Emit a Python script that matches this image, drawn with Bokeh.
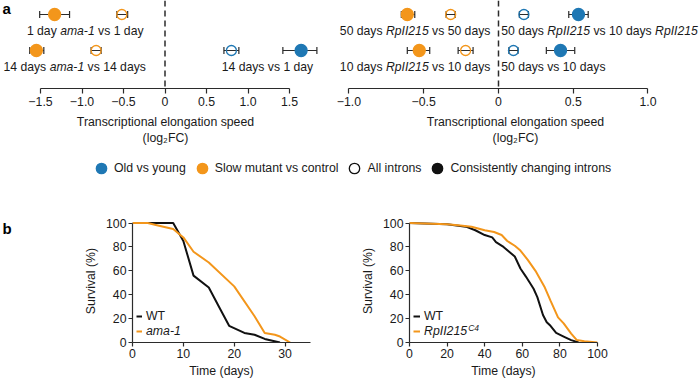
import numpy as np
from bokeh.plotting import figure
from bokeh.models import (Range1d, FixedTicker, Span, Whisker, TeeHead, ColumnDataSource,
                          Legend, LegendItem, Label, CustomJSTickFormatter)
from bokeh.layouts import column, row
from bokeh.embed import file_html
from bokeh.resources import INLINE
from bokeh.core.properties import value

# ---------------- data ----------------
# Panel a, left (ama-1)
a1_row = [0, 0, 1, 1, 1, 1]
a1_fc = [-1.33, -0.52, -1.55, -0.83, 0.80, 1.64]
a1_lo = [-1.51, -0.58, -1.63, -0.89, 0.71, 1.42]
a1_hi = [-1.15, -0.45, -1.46, -0.77, 0.89, 1.83]
a1_comp = ["slow", "slow", "slow", "slow", "old", "old"]
a1_set = ["consistent", "all", "consistent", "all", "all", "consistent"]
a1_ticks = [-1.5, -1.0, -0.5, 0, 0.5, 1.0, 1.5]
a1_labels = [
    ([("1 day ", 0), ("ama-1", 1), (" vs 1 day", 0)], -0.961, 0, "center"),
    ([("14 days ", 0), ("ama-1", 1), (" vs 14 days", 0)], -0.23, 1, "right"),
    ([("14 days vs 1 day", 0)], 1.235, 1, "center"),
]

# Panel a, right (RpII215)
a2_row = [0, 0, 0, 0, 1, 1, 1, 1]
a2_fc = [-0.61, -0.32, 0.17, 0.535, -0.53, -0.22, 0.10, 0.415]
a2_lo = [-0.65, -0.35, 0.14, 0.47, -0.61, -0.27, 0.07, 0.32]
a2_hi = [-0.56, -0.29, 0.20, 0.60, -0.46, -0.17, 0.13, 0.51]
a2_comp = ["slow", "slow", "old", "old", "slow", "slow", "old", "old"]
a2_set = ["consistent", "all", "all", "consistent", "consistent", "all", "all", "consistent"]
a2_ticks = [-1.0, -0.5, 0, 0.5, 1.0]
a2_labels = [
    ([("50 days ", 0), ("RpII215", 1), (" vs 50 days", 0)], -0.054, 0, "right"),
    ([("50 days ", 0), ("RpII215", 1), (" vs 10 days ", 0), ("RpII215", 1)], 0.018, 0, "left"),
    ([("10 days ", 0), ("RpII215", 1), (" vs 10 days", 0)], -0.054, 1, "right"),
    ([("50 days vs 10 days", 0)], 0.018, 1, "left"),
]

legend_labels = ["Old vs young", "Slow mutant vs control", "All introns",
                 "Consistently changing introns"]

# Panel b, left: worms
b1_wt_day = [0, 8, 10, 12, 15, 17, 19, 22, 24, 26, 27.5, 29]
b1_wt_surv = [100, 100, 85, 56, 46, 30, 14, 8, 6.5, 3, 1.5, 0]
b1_mut_day = [0, 3, 5, 8, 10, 12, 15, 20, 24, 26, 28, 29, 31]
b1_mut_surv = [100, 100, 98, 95, 88, 76, 67, 47, 22, 8, 6.5, 5, 0]
b1_xticks = [0, 10, 20, 30]

# Panel b, right: flies
b2_wt_day = [0, 20, 30, 35, 40, 44, 46, 50, 53, 56, 59, 62, 66, 68, 71, 73, 75, 78, 82, 86, 90]
b2_wt_surv = [100, 99, 97, 94, 90, 88, 84, 80, 76, 72, 62, 55, 45, 38, 23, 17, 14, 8, 5, 2, 0]
b2_mut_day = [0, 20, 27, 33, 40, 45, 49, 52, 56, 59, 63, 67, 72, 75, 79, 82, 86, 89, 93, 100]
b2_mut_surv = [100, 99, 98, 97, 94, 92.5, 90, 85, 81, 77, 69, 60, 46, 35, 21, 16, 7.5, 2, 1, 0]
b2_xticks = [0, 20, 40, 60, 80, 100]
b_yticks = [0, 20, 40, 60, 80, 100]

# ---------------- style ----------------
FONT = "Liberation Sans"
FS = "12.3px"
LFS = 12.2
TXT = "#1a1a1a"
DARK = "#2b2b2b"
ORANGE = "#F3961B"
BLUE = "#1F78B4"
COL = {"old": BLUE, "slow": ORANGE}

AW = {' ': 278, '-': 333, '.': 278, 'a': 556, 'd': 556, 'y': 500, 'm': 833, 'v': 500,
      's': 500, 'R': 722, 'p': 556, 'I': 278, 'l': 222, 'i': 222, 'C': 722}


def tw(s, fs):
    return sum(AW.get(ch, 556) for ch in s) * fs / 1000.0


def base_fig(**kw):
    p = figure(toolbar_location=None, output_backend="svg", **kw)
    p.outline_line_color = None
    p.background_fill_color = "white"
    p.border_fill_color = "white"
    p.grid.visible = False
    return p


def style_axis(ax, tick_out, standoff):
    ax.axis_line_color = DARK
    ax.axis_line_width = 1.2
    ax.major_tick_line_color = DARK
    ax.major_tick_line_width = 1.2
    ax.major_tick_in = 0
    ax.major_tick_out = tick_out
    ax.minor_tick_line_color = None
    ax.major_label_standoff = standoff
    ax.major_label_text_font = FONT
    ax.major_label_text_font_size = FS
    ax.major_label_text_color = TXT
    ax.axis_label_text_font = FONT
    ax.axis_label_text_font_size = FS
    ax.axis_label_text_font_style = "normal"
    ax.axis_label_text_color = TXT


ROWS = (2.056, -0.389)   # (bottom, top) in row units; row 0 on top


def panel_a(frame_w, xr, ticks, bounds, rows, fc, lo, hi, comp, kind, labels, letter=None):
    p = base_fig(frame_width=frame_w, frame_height=88, min_border_left=0, min_border_right=0,
                 min_border_top=0, min_border_bottom=60, x_range=Range1d(*xr),
                 y_range=Range1d(*ROWS), y_axis_location=None)
    cons = [k == "consistent" for k in kind]
    src = ColumnDataSource(dict(
        row=rows, fc=fc, lo=lo, hi=hi,
        fill=[COL[c] if k else "white" for c, k in zip(comp, cons)],
        alpha=[1.0 if k else 0.0 for k in cons],
        line=[COL[c] for c in comp],
        size=[12 if k else 10 for k in cons]))
    p.add_layout(Span(location=0, dimension="height", line_color=DARK, line_width=1.5,
                      line_dash="6 4"))
    w = Whisker(source=src, base="row", lower="lo", upper="hi", dimension="width",
                line_color=DARK, line_width=1.2, level="underlay",
                upper_head=TeeHead(size=7, line_color=DARK, line_width=1.2),
                lower_head=TeeHead(size=7, line_color=DARK, line_width=1.2))
    p.add_layout(w)
    p.scatter("fc", "row", source=src, size="size", fill_color="fill", fill_alpha="alpha",
              line_color="line", line_width=1.3)

    scale = frame_w / (xr[1] - xr[0])
    norm = dict(x=[], y=[], text=[])
    ital = dict(x=[], y=[], text=[])
    for segs, anchor, r, align in labels:
        total = sum(tw(s, LFS) for s, _ in segs)
        off = {"center": -total / 2, "right": -total, "left": 0}[align]
        x = anchor + off / scale
        for s, it in segs:
            lead = len(s) - len(s.lstrip(" "))
            d = ital if it else norm
            d["x"].append(x + tw(" " * lead, LFS) / scale)
            d["y"].append(r + 0.47)
            d["text"].append(s.strip(" "))
            x += tw(s, LFS) / scale
    for d, st in ((norm, "normal"), (ital, "italic")):
        p.text("x", "y", text="text", source=ColumnDataSource(d), text_font=value(FONT),
               text_font_size=value(f"{LFS}px"), text_font_style=st, text_color=TXT,
               text_align="left", text_baseline="middle")

    ax = p.xaxis[0]
    ax.ticker = FixedTicker(ticks=ticks)
    ax.bounds = bounds
    ax.formatter = CustomJSTickFormatter(code="""
        if (tick == 0) { return "0"; }
        const s = Math.abs(tick).toFixed(1);
        return tick < 0 ? "\u2212" + s : s;
    """)
    style_axis(ax, 5, 3)
    ax.axis_label = "Transcriptional elongation speed\n(log\u2082FC)"
    ax.axis_label_standoff = 6
    if letter:
        p.add_layout(Label(x=xr[0], y=ROWS[1] + 8 / 36, x_offset=2, text=letter,
                           text_font=FONT, text_font_size="15px", text_font_style="bold",
                           text_color="#000", text_align="left", text_baseline="middle"))
    return p


pa1 = panel_a(330, (-1.982, 1.994), a1_ticks, (-1.5, 1.5), a1_row, a1_fc, a1_lo, a1_hi,
              a1_comp, a1_set, a1_labels, letter="a")
pa2 = panel_a(370, (-1.1237, 1.3512), a2_ticks, (-1.0, 1.0), a2_row, a2_fc, a2_lo, a2_hi,
              a2_comp, a2_set, a2_labels)

# ---------------- legend strip ----------------
pl = base_fig(frame_width=700, frame_height=38, min_border_left=0, min_border_right=0,
              min_border_top=0, min_border_bottom=0, x_range=Range1d(0, 1),
              y_range=Range1d(0, 1), x_axis_location=None, y_axis_location=None)
leg_styles = [(BLUE, BLUE), (ORANGE, ORANGE), ("white", "#111111"), ("#111111", "#111111")]
leg_items = []
for lab, (fc_, lc_) in zip(legend_labels, leg_styles):
    r = pl.scatter(x=np.array([np.nan]), y=np.array([np.nan]), fill_color=fc_,
                   line_color=lc_, line_width=1.3)
    leg_items.append(LegendItem(label=lab, renderers=[r]))
leg = Legend(items=leg_items, orientation="horizontal", location=(88, 5),
             glyph_width=26, glyph_height=26, label_height=14, label_standoff=-4,
             spacing=3, padding=0, margin=0, border_line_color=None,
             background_fill_alpha=0, label_text_font=FONT, label_text_font_size=FS,
             label_text_color=TXT, label_text_baseline="middle")
pl.add_layout(leg)

# ---------------- panel b ----------------
B_TOP, B_FRAME, B_BOT = 33, 123, 38
YMAX = 103


def b_fig(frame_w, xmax, left, right, **kw):
    return base_fig(frame_width=frame_w, frame_height=B_FRAME, min_border_left=left,
                    min_border_right=right, min_border_top=B_TOP, min_border_bottom=B_BOT,
                    x_range=Range1d(0, xmax), y_range=Range1d(0, YMAX), **kw)


plb = b_fig(20, 1, 0, 0, x_axis_location=None, y_axis_location=None)
plb.add_layout(Label(x=0, y=YMAX, x_offset=2, text="b",
                     text_font=FONT, text_font_size="15px", text_font_style="bold",
                     text_color="#000", text_align="left", text_baseline="top"))


def panel_b(frame_w, xmax, xticks, left, right, wt_d, wt_s, mut_d, mut_s, mut_label, gw):
    p = b_fig(frame_w, xmax, left, right)
    r_wt = p.line(wt_d, wt_s, line_color="#111111", line_width=2)
    r_mut = p.line(mut_d, mut_s, line_color=ORANGE, line_width=2)
    xa = p.xaxis[0]
    ya = p.yaxis[0]
    xa.ticker = FixedTicker(ticks=xticks)
    ya.ticker = FixedTicker(ticks=b_yticks)
    xa.bounds = (0, xmax)
    ya.bounds = (0, 100)
    style_axis(xa, 4, 2)
    style_axis(ya, 4, 2)
    ya.axis_label = "Survival (%)"
    ya.axis_label_standoff = 5
    xa.axis_label = "Time (days)"
    xa.axis_label_standoff = 3
    common = dict(orientation="vertical", glyph_width=gw, glyph_height=14, label_height=14,
                  label_standoff=4, padding=0, margin=0, spacing=0, border_line_color=None,
                  background_fill_alpha=0, label_text_font=FONT, label_text_font_size=FS,
                  label_text_color=TXT, label_text_baseline="middle")
    p.add_layout(Legend(items=[LegendItem(label="WT", renderers=[r_wt])], location=(4, 19),
                        **common))
    p.add_layout(Legend(items=[LegendItem(label=mut_label, renderers=[r_mut])],
                        location=(4, 4), label_text_font_style="italic", **common))
    return p, (4 + gw + 4 + tw(mut_label, 12.3)) / (frame_w / xmax)


pb1, _ = panel_b(178, 35, b1_xticks, 112, 40, b1_wt_day, b1_wt_surv, b1_mut_day, b1_mut_surv,
                 "ama-1", 6)
pb2, sup_x = panel_b(188, 100, b2_xticks, 59, 103, b2_wt_day, b2_wt_surv, b2_mut_day,
                     b2_mut_surv, "RpII215", 7)
pb2.add_layout(Label(x=sup_x + 0.3, y=14.5 / (B_FRAME / YMAX), text="C4", text_font=FONT,
                     text_font_size="8.5px", text_font_style="italic", text_color=TXT,
                     text_align="left", text_baseline="middle"))

layout = column(row(pa1, pa2), pl, row(plb, pb1, pb2))

open("out.html", "w").write(file_html(layout, INLINE))
